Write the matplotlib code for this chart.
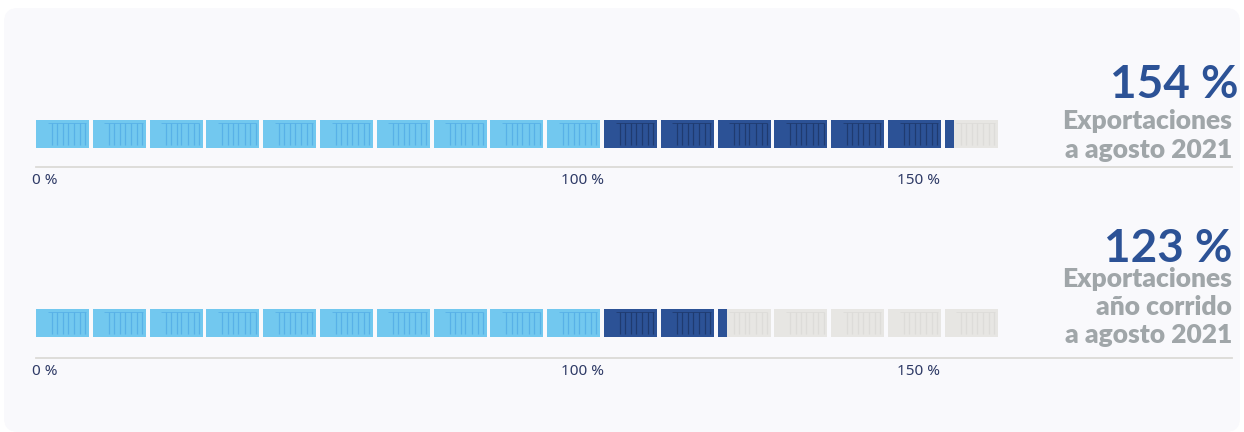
import numpy as np
from matplotlib import pyplot as plt
from matplotlib.patches import FancyBboxPatch

# containers in each row: 10 = 100 %
total_containers = 17
light_counts = [10, 10]
dark_counts = [6, 2]
partial_fill = [0.17, 0.17]

big_labels = ['154 %', '123 %']
side_labels = [['Exportaciones', 'a agosto 2021'],
               ['Exportaciones', 'año corrido', 'a agosto 2021']]
tick_labels = ['0 %', '100 %', '150 %']

# layout, in slots / pixels
tick_slots = [0.16, 9.63, 15.53]
rib_pos = [0.30, 0.40, 0.51, 0.60, 0.72, 0.83, 0.93]
PITCH = 56.8
BOX = 53 / PITCH
W, H = 1244, 432

LIGHT, LIGHT_RIB = '#72c8ef', '#58b1e7'
DARK, DARK_RIB = '#2c5296', '#1f3b70'
GREY, GREY_RIB = '#e7e6e3', '#dddcd9'
TEXT_GREY = '#a0a6a9'

plt.rcParams['font.family'] = ['Lato', 'DejaVu Sans']

fig = plt.figure(figsize=(W / 100, H / 100), dpi=100, facecolor='white')

# background card and the text on the right
bg = fig.add_axes([0, 0, 1, 1], zorder=0)
bg.set_xlim(0, W)
bg.set_ylim(H, 0)
bg.axis('off')
bg.add_patch(FancyBboxPatch((4, 8), W - 8, H - 8, boxstyle='round,pad=0,rounding_size=14',
                            fc='#f9f9fc', ec='none'))

bg.text(1238, 85, big_labels[0], ha='right', va='center', fontsize=33, color=DARK, fontweight='bold')
bg.text(1232, 121, side_labels[0][0], ha='right', va='center', fontsize=19, color=TEXT_GREY, fontweight='heavy')
bg.text(1232, 150, side_labels[0][1], ha='right', va='center', fontsize=19, color=TEXT_GREY, fontweight='heavy')

bg.text(1232, 249, big_labels[1], ha='right', va='center', fontsize=33, color=DARK, fontweight='bold')
bg.text(1232, 279, side_labels[1][0], ha='right', va='center', fontsize=19, color=TEXT_GREY, fontweight='heavy')
bg.text(1232, 307, side_labels[1][1], ha='right', va='center', fontsize=19, color=TEXT_GREY, fontweight='heavy')
bg.text(1232, 335, side_labels[1][2], ha='right', va='center', fontsize=19, color=TEXT_GREY, fontweight='heavy')


def draw_row(bottom_px, spine_px, light, dark, partial):
    ax = fig.add_axes([36 / W, 1 - spine_px / H, (1232 - 36) / W, 90 / H], zorder=1)
    ax.patch.set_alpha(0)
    ax.set_xlim(0, (1232 - 36) / PITCH)
    ax.set_ylim(-(spine_px - bottom_px) / 28, (90 - (spine_px - bottom_px)) / 28)

    slots = np.arange(total_containers)
    colors = [LIGHT] * light + [DARK] * dark + [GREY] * (total_containers - light - dark)
    ribs = [LIGHT_RIB] * light + [DARK_RIB] * dark + [GREY_RIB] * (total_containers - light - dark)

    ax.bar(slots, 1, width=BOX, align='edge', color=colors)
    ax.bar(light + dark, 1, width=BOX * partial, align='edge', color=DARK, zorder=3)

    # corrugated ribs on every container
    for s, c in zip(slots, ribs):
        xs = s + np.array(rib_pos) * BOX
        ax.vlines(xs, 0.1, 0.9, color=c, lw=0.9, zorder=2)
        ax.hlines(0.9, s + 0.22 * BOX, s + 0.94 * BOX, color=c, lw=0.6, zorder=2)

    for side in ['top', 'left', 'right']:
        ax.spines[side].set_visible(False)
    ax.spines['bottom'].set_color('#dcdad7')
    ax.spines['bottom'].set_linewidth(1.3)
    ax.set_yticks([])
    ax.set_xticks(tick_slots)
    ax.set_xticklabels(tick_labels, family=['Noto Sans', 'DejaVu Sans'], fontsize=11, color='#2e3a66')
    ax.tick_params(axis='x', length=0, pad=4)


draw_row(148, 167, light_counts[0], dark_counts[0], partial_fill[0])
draw_row(337, 358, light_counts[1], dark_counts[1], partial_fill[1])

fig.savefig('out.png', dpi=100)
